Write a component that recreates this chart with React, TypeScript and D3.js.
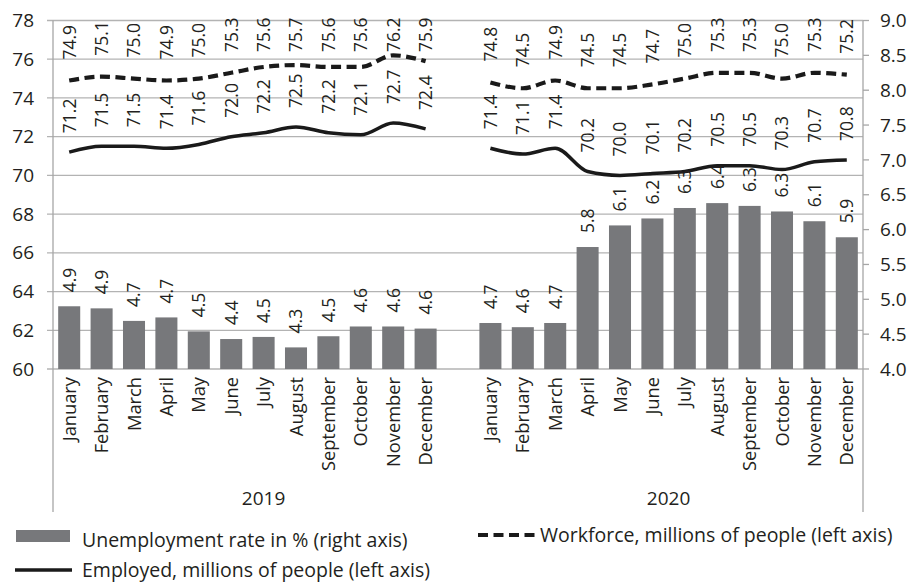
import React from "react";
import * as d3 from "d3";

const months = ["January","February","March","April","May","June","July","August","September","October","November","December"];
const years = ["2019", "2020"];

const unemployment2019 = [4.9, 4.87, 4.69, 4.74, 4.54, 4.43, 4.46, 4.31, 4.47, 4.61, 4.61, 4.58];
const unemployment2020 = [4.66, 4.6, 4.66, 5.75, 6.06, 6.16, 6.31, 6.38, 6.34, 6.26, 6.12, 5.89];
const employed2019 = [71.2, 71.5, 71.5, 71.4, 71.6, 72.0, 72.2, 72.5, 72.2, 72.1, 72.7, 72.4];
const employed2020 = [71.4, 71.1, 71.4, 70.2, 70.0, 70.1, 70.2, 70.5, 70.5, 70.3, 70.7, 70.8];
const workforce2019 = [74.9, 75.1, 75.0, 74.9, 75.0, 75.3, 75.6, 75.7, 75.6, 75.6, 76.2, 75.9];
const workforce2020 = [74.8, 74.5, 74.9, 74.5, 74.5, 74.7, 75.0, 75.3, 75.3, 75.0, 75.3, 75.2];

const leftTicks = [60, 62, 64, 66, 68, 70, 72, 74, 76, 78];
const rightTicks = [4.0, 4.5, 5.0, 5.5, 6.0, 6.5, 7.0, 7.5, 8.0, 8.5, 9.0];

const legendLabels = [
  "Unemployment rate in % (right axis)",
  "Workforce, millions of people (left axis)",
  "Employed, millions of people (left axis)",
];

const W = 914, H = 582;
const L = 53, R = 863, T = 20.5, B = 369;
const FONT = "'Open Sans', 'Noto Sans', sans-serif";
const TEXT = "#231f20";
const BAR = "#77787b";
const GRID = "#b3b3b3";
const AXIS = "#a6a6a6";

const keys = [
  ...months.map((m) => `2019-${m}`),
  "gap",
  ...months.map((m) => `2020-${m}`),
];

export default function App() {
  const x = d3.scaleBand<string>().domain(keys).range([L, R]).paddingInner(0.32).paddingOuter(0.16);
  const yL = d3.scaleLinear().domain([60, 78]).range([B, T]);
  const yR = d3.scaleLinear().domain([4, 9]).range([B, T]);
  const cx = (k: string) => (x(k) as number) + x.bandwidth() / 2;

  type Row = { key: string; month: string; u: number; e: number; w: number };
  const groups: Row[][] = [
    months.map((m, i) => ({ key: `2019-${m}`, month: m, u: unemployment2019[i], e: employed2019[i], w: workforce2019[i] })),
    months.map((m, i) => ({ key: `2020-${m}`, month: m, u: unemployment2020[i], e: employed2020[i], w: workforce2020[i] })),
  ];
  const all = groups.flat();

  const lineE = d3.line<Row>().x((d) => cx(d.key)).y((d) => yL(d.e)).curve(d3.curveMonotoneX);
  const lineW = d3.line<Row>().x((d) => cx(d.key)).y((d) => yL(d.w)).curve(d3.curveMonotoneX);

  const fmt = d3.format(".1f");
  const step = x.step();
  const yearCenters = [L + step * 6.5, L + step * 19];

  const vLabel = (xx: number, yy: number, txt: string, size: number, key: string) => (
    <text key={key} transform={`translate(${xx + size * 0.36},${yy}) rotate(-90)`} fontSize={size} fill={TEXT} fontFamily={FONT}>
      {txt}
    </text>
  );

  return (
    <svg width={W} height={H} style={{ position: "absolute", left: 0, top: 0, background: "#fff" }}>
      {leftTicks.map((t) => (
        <line key={`g${t}`} x1={L - 6} x2={R} y1={yL(t)} y2={yL(t)} stroke={GRID} strokeWidth={1.3} />
      ))}
      <line x1={L} x2={L} y1={T} y2={512} stroke={AXIS} strokeWidth={1.3} />
      <line x1={R} x2={R} y1={T} y2={512} stroke={AXIS} strokeWidth={1.3} />
      {rightTicks.map((t) => (
        <line key={`rt${t}`} x1={R} x2={R + 6} y1={yR(t)} y2={yR(t)} stroke={AXIS} strokeWidth={1.3} />
      ))}
      {leftTicks.map((t) => (
        <text key={`lt${t}`} x={34} y={yL(t)} dy="0.35em" textAnchor="end" fontSize={19} fill={TEXT} fontFamily={FONT}>
          {t}
        </text>
      ))}
      {rightTicks.map((t) => (
        <text key={`rl${t}`} x={880} y={yR(t)} dy="0.35em" textAnchor="start" fontSize={19} fill={TEXT} fontFamily={FONT}>
          {fmt(t)}
        </text>
      ))}
      {all.map((d) => (
        <rect key={`b${d.key}`} x={x(d.key)} y={yR(d.u)} width={x.bandwidth()} height={B - yR(d.u)} fill={BAR} />
      ))}
      {groups.map((g, i) => (
        <g key={`lines${i}`}>
          <path d={lineE(g) || ""} fill="none" stroke="#1a1a1a" strokeWidth={3.5} strokeLinejoin="round" />
          <path d={lineW(g) || ""} fill="none" stroke="#1a1a1a" strokeWidth={4.2} strokeDasharray="10,5.5" />
        </g>
      ))}
      {all.map((d) => vLabel(cx(d.key), yR(d.u) - 14, fmt(d.u), 17.5, `ul${d.key}`))}
      {all.map((d) => vLabel(cx(d.key), yL(d.e) - 19, fmt(d.e), 17.5, `el${d.key}`))}
      {all.map((d) => vLabel(cx(d.key), Math.max(yL(d.w) - 21, 52), fmt(d.w), 17.5, `wl${d.key}`))}
      {all.map((d) => (
        <text key={`m${d.key}`} transform={`translate(${cx(d.key) + 6.5},${377}) rotate(-90)`} textAnchor="end" fontSize={18.3} fill={TEXT} fontFamily={FONT}>
          {d.month}
        </text>
      ))}
      {years.map((yv, i) => (
        <text key={`y${yv}`} x={yearCenters[i]} y={505} textAnchor="middle" fontSize={19} fill={TEXT} fontFamily={FONT}>
          {yv}
        </text>
      ))}
      <rect x={16} y={530} width={54} height={12} fill={BAR} />
      <text x={82} y={547} fontSize={19.5} fill={TEXT} fontFamily={FONT}>{legendLabels[0]}</text>
      <line x1={15} x2={72} y1={570} y2={570} stroke="#1a1a1a" strokeWidth={3.5} />
      <text x={82} y={577} fontSize={19.5} fill={TEXT} fontFamily={FONT}>{legendLabels[2]}</text>
      <line x1={478} x2={536} y1={535} y2={535} stroke="#1a1a1a" strokeWidth={4.2} strokeDasharray="10,5.5" />
      <text x={540} y={542} fontSize={19.5} fill={TEXT} fontFamily={FONT}>{legendLabels[1]}</text>
    </svg>
  );
}
